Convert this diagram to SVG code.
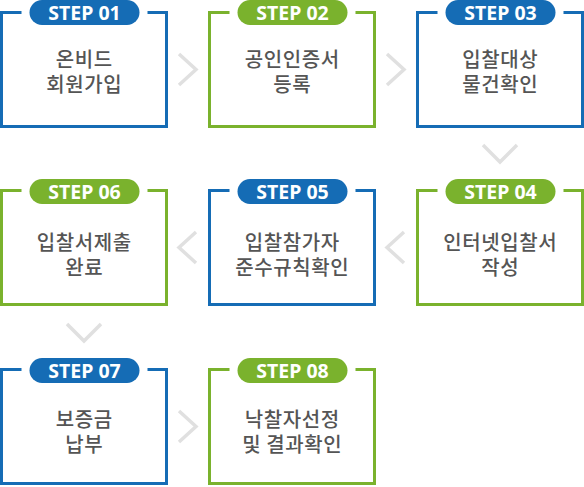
<svg xmlns="http://www.w3.org/2000/svg" width="584" height="487" viewBox="0 0 584 487">
<style>
.box{fill:none;stroke-width:3;stroke-linejoin:miter}
.blue .box{stroke:#156cb5}
.green .box{stroke:#7ab22d}
.blue .pill{fill:#156cb5}
.green .pill{fill:#7ab22d}
.step{font-family:"Noto Sans","Open Sans",sans-serif;font-weight:bold;font-size:19.5px;fill:#fff;text-anchor:middle}
.lbl{font-family:"Noto Sans CJK KR","Noto Sans",sans-serif;font-weight:500;font-size:20px;letter-spacing:0.6px;fill:#555;text-anchor:middle}
.chev{fill:none;stroke:#e0e0e0;stroke-width:3.5}
</style>
<rect width="584" height="487" fill="#fff"/>
<g id="connectors">
<polyline class="chev" points="179,54 196,69.5 179,85"/>
<polyline class="chev" points="387,54 404,69.5 387,85"/>
<polyline class="chev" points="483,145 500,162 517,145"/>
<polyline class="chev" points="404,232 387,247.5 404,263"/>
<polyline class="chev" points="196,232 179,247.5 196,263"/>
<polyline class="chev" points="67,324 84,341 101,324"/>
<polyline class="chev" points="179,411 196,426.5 179,442"/>
</g>
<g id="step01" class="blue">
<path class="box" d="M21.5 12.5H1.5V126.5H166.5V12.5H147.5"/>
<rect class="pill" x="29.5" y="0" width="110" height="25" rx="12.5"/>
<text class="step" x="84.5" y="20">STEP 01</text>
<text class="lbl" x="84.3" y="67">온비드</text>
<text class="lbl" x="84.3" y="92">회원가입</text>
</g>
<g id="step02" class="green">
<path class="box" d="M229.5 12.5H209.5V126.5H374.5V12.5H355.5"/>
<rect class="pill" x="237.5" y="0" width="110" height="25" rx="12.5"/>
<text class="step" x="292.5" y="20">STEP 02</text>
<text class="lbl" x="292.3" y="67">공인인증서</text>
<text class="lbl" x="292.3" y="92">등록</text>
</g>
<g id="step03" class="blue">
<path class="box" d="M437.5 12.5H417.5V126.5H582.5V12.5H563.5"/>
<rect class="pill" x="445.5" y="0" width="110" height="25" rx="12.5"/>
<text class="step" x="500.5" y="20">STEP 03</text>
<text class="lbl" x="500.3" y="67">입찰대상</text>
<text class="lbl" x="500.3" y="92">물건확인</text>
</g>
<g id="step04" class="green">
<path class="box" d="M437.5 190.5H417.5V304.5H582.5V190.5H563.5"/>
<rect class="pill" x="445.5" y="179" width="110" height="25" rx="12.5"/>
<text class="step" x="500.5" y="199">STEP 04</text>
<text class="lbl" x="500.3" y="250">인터넷입찰서</text>
<text class="lbl" x="500.3" y="275">작성</text>
</g>
<g id="step05" class="blue">
<path class="box" d="M229.5 190.5H209.5V304.5H374.5V190.5H355.5"/>
<rect class="pill" x="237.5" y="179" width="110" height="25" rx="12.5"/>
<text class="step" x="292.5" y="199">STEP 05</text>
<text class="lbl" x="292.3" y="250">입찰참가자</text>
<text class="lbl" x="292.3" y="275">준수규칙확인</text>
</g>
<g id="step06" class="green">
<path class="box" d="M21.5 190.5H1.5V304.5H166.5V190.5H147.5"/>
<rect class="pill" x="29.5" y="179" width="110" height="25" rx="12.5"/>
<text class="step" x="84.5" y="199">STEP 06</text>
<text class="lbl" x="84.3" y="250">입찰서제출</text>
<text class="lbl" x="84.3" y="275">완료</text>
</g>
<g id="step07" class="blue">
<path class="box" d="M21.5 369.5H1.5V483.5H166.5V369.5H147.5"/>
<rect class="pill" x="29.5" y="358" width="110" height="25" rx="12.5"/>
<text class="step" x="84.5" y="378">STEP 07</text>
<text class="lbl" x="84.3" y="427">보증금</text>
<text class="lbl" x="84.3" y="452">납부</text>
</g>
<g id="step08" class="green">
<path class="box" d="M229.5 369.5H209.5V483.5H374.5V369.5H355.5"/>
<rect class="pill" x="237.5" y="358" width="110" height="25" rx="12.5"/>
<text class="step" x="292.5" y="378">STEP 08</text>
<text class="lbl" x="292.3" y="427">낙찰자선정</text>
<text class="lbl" x="292.3" y="452">및 결과확인</text>
</g>
</svg>
